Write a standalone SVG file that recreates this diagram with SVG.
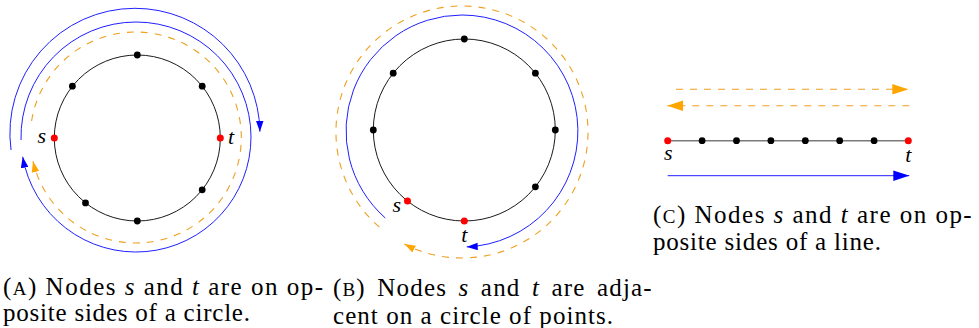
<svg xmlns="http://www.w3.org/2000/svg" width="979" height="328" viewBox="0 0 979 328">
<style>
  .ring{fill:none;stroke:#1a1a1a;stroke-width:1}
  .blue{fill:none;stroke:#1f1fff;stroke-width:1}
  .orange{fill:none;stroke:#eea020;stroke-width:1.1;stroke-dasharray:7 7}
  .gray{fill:none;stroke:#7a7a7a;stroke-width:1.6}
  .dot{fill:#000}
  .red{fill:#ff0000}
  .lbl{font-family:"Liberation Serif","Times New Roman",serif;font-style:italic;font-size:22px;fill:#000}
  .cap{font-family:"Liberation Serif","Times New Roman",serif;font-size:25px;fill:#000}
  .it{font-style:italic}
  .sc{font-size:19px}
</style>
<defs>
  <marker id="ab" viewBox="0 0 11 8" refX="11" refY="4" markerWidth="11" markerHeight="8" markerUnits="userSpaceOnUse" orient="auto">
    <path d="M0,0.2 L11,4 L0,7.8 Z" fill="#0000ff"/>
  </marker>
  <marker id="ao" viewBox="0 0 11 8" refX="11" refY="4" markerWidth="11" markerHeight="8" markerUnits="userSpaceOnUse" orient="auto">
    <path d="M0,0.2 L11,4 L0,7.8 Z" fill="#ffa500"/>
  </marker>
  <marker id="abL" viewBox="0 0 16 11" refX="16" refY="5.5" markerWidth="16" markerHeight="11" markerUnits="userSpaceOnUse" orient="auto">
    <path d="M0,0.2 L16,5.5 L0,10.8 Z" fill="#0000ff"/>
  </marker>
  <marker id="aoL" viewBox="0 0 16 11" refX="16" refY="5.5" markerWidth="16" markerHeight="11" markerUnits="userSpaceOnUse" orient="auto">
    <path d="M0,0.2 L16,5.5 L0,10.8 Z" fill="#ffa500"/>
  </marker>
</defs>

<!-- Connectors -->
<g id="connectors">
  <!-- Panel A -->
  <circle class="ring" cx="137.3" cy="138" r="83"/>
  <path class="blue" d="M11.03,150.05 A125,125 0 0 1 134.9,8.3 A125,125 0 0 1 259.89,131.71" marker-end="url(#ab)"/>
  <path class="blue" d="M21.04,140.01 A115,115 0 0 1 136,22 A115,115 0 0 1 251,137 A115,115 0 0 1 22.71,156.77" marker-end="url(#ab)"/>
  <path class="orange" d="M31.6,121 A105.5,105.5 0 0 1 135.8,32 A105.5,105.5 0 0 1 241.3,137.5 A105.5,105.5 0 0 1 33,161.2" marker-end="url(#ao)"/>
  <!-- Panel B -->
  <circle class="ring" cx="464.3" cy="130" r="91"/>
  <path class="blue" d="M385.3,218 A116,116 0 0 1 462,15 A116,116 0 0 1 466.7,246.9" marker-end="url(#ab)"/>
  <path class="orange" d="M379.3,227.1 A126,126 0 0 1 462,6 A126,126 0 0 1 551.1,221.1 A126,126 0 0 1 404.4,244.1" marker-end="url(#ao)"/>
  <!-- Panel C -->
  <line class="orange" x1="676" y1="89.3" x2="908.3" y2="89.3" marker-end="url(#aoL)"/>
  <line class="orange" x1="909.3" y1="105.7" x2="667.3" y2="105.7" marker-end="url(#aoL)"/>
  <line class="gray" x1="667.7" y1="140.7" x2="908.3" y2="140.7"/>
  <line class="blue" x1="667.7" y1="175.7" x2="909.3" y2="175.7" marker-end="url(#abL)"/>
</g>

<!-- Panel A nodes -->
<g id="a-t"><circle class="red" cx="220.3" cy="138" r="3.5"/><text class="lbl" x="231" y="144" text-anchor="middle">t</text></g>
<g id="a-n1"><circle class="dot" cx="202.2" cy="86.2" r="3.4"/></g>
<g id="a-n2"><circle class="dot" cx="137.3" cy="55" r="3.4"/></g>
<g id="a-n3"><circle class="dot" cx="72.4" cy="86.2" r="3.4"/></g>
<g id="a-s"><circle class="red" cx="54.3" cy="138" r="3.5"/><text class="lbl" x="41.7" y="143" text-anchor="middle">s</text></g>
<g id="a-n5"><circle class="dot" cx="85.5" cy="202.9" r="3.4"/></g>
<g id="a-n6"><circle class="dot" cx="137.3" cy="221" r="3.4"/></g>
<g id="a-n7"><circle class="dot" cx="202.2" cy="189.8" r="3.4"/></g>

<!-- Panel B nodes -->
<g id="b-n0"><circle class="dot" cx="555.3" cy="130" r="3.4"/></g>
<g id="b-n1"><circle class="dot" cx="535.4" cy="73.2" r="3.4"/></g>
<g id="b-n2"><circle class="dot" cx="464.3" cy="39" r="3.4"/></g>
<g id="b-n3"><circle class="dot" cx="393.2" cy="73.2" r="3.4"/></g>
<g id="b-n4"><circle class="dot" cx="373.3" cy="130" r="3.4"/></g>
<g id="b-s"><circle class="red" cx="407.5" cy="201.1" r="3.5"/><text class="lbl" x="396.7" y="211.5" text-anchor="middle">s</text></g>
<g id="b-t"><circle class="red" cx="464.3" cy="221" r="3.5"/><text class="lbl" x="464.3" y="241.5" text-anchor="middle">t</text></g>
<g id="b-n7"><circle class="dot" cx="535.4" cy="186.8" r="3.4"/></g>

<!-- Panel C nodes -->
<g id="c-s"><circle class="red" cx="667.7" cy="140.7" r="3.5"/><text class="lbl" x="668.3" y="160" text-anchor="middle">s</text></g>
<g id="c-n1"><circle class="dot" cx="702.1" cy="140.7" r="3.4"/></g>
<g id="c-n2"><circle class="dot" cx="736.5" cy="140.7" r="3.4"/></g>
<g id="c-n3"><circle class="dot" cx="770.9" cy="140.7" r="3.4"/></g>
<g id="c-n4"><circle class="dot" cx="805.3" cy="140.7" r="3.4"/></g>
<g id="c-n5"><circle class="dot" cx="839.7" cy="140.7" r="3.4"/></g>
<g id="c-n6"><circle class="dot" cx="874.1" cy="140.7" r="3.4"/></g>
<g id="c-t"><circle class="red" cx="908.3" cy="140.7" r="3.5"/><text class="lbl" x="908.3" y="161.5" text-anchor="middle">t</text></g>

<!-- Captions -->
<g id="captions">
  <text class="cap" x="3" y="295" textLength="320">(<tspan class="sc">A</tspan>) Nodes <tspan class="it">s</tspan> and <tspan class="it">t</tspan> are on op-</text>
  <text class="cap" x="3" y="320.7" textLength="247">posite sides of a circle.</text>
  <text class="cap" x="333" y="296" word-spacing="4" textLength="318.7">(<tspan class="sc">B</tspan>) Nodes <tspan class="it">s</tspan> and <tspan class="it">t</tspan> are adja-</text>
  <text class="cap" x="333" y="323.5" textLength="280">cent on a circle of points.</text>
  <text class="cap" x="653" y="223" textLength="318.7">(<tspan class="sc">C</tspan>) Nodes <tspan class="it">s</tspan> and <tspan class="it">t</tspan> are on op-</text>
  <text class="cap" x="653" y="249.5" textLength="228">posite sides of a line.</text>
</g>
</svg>
